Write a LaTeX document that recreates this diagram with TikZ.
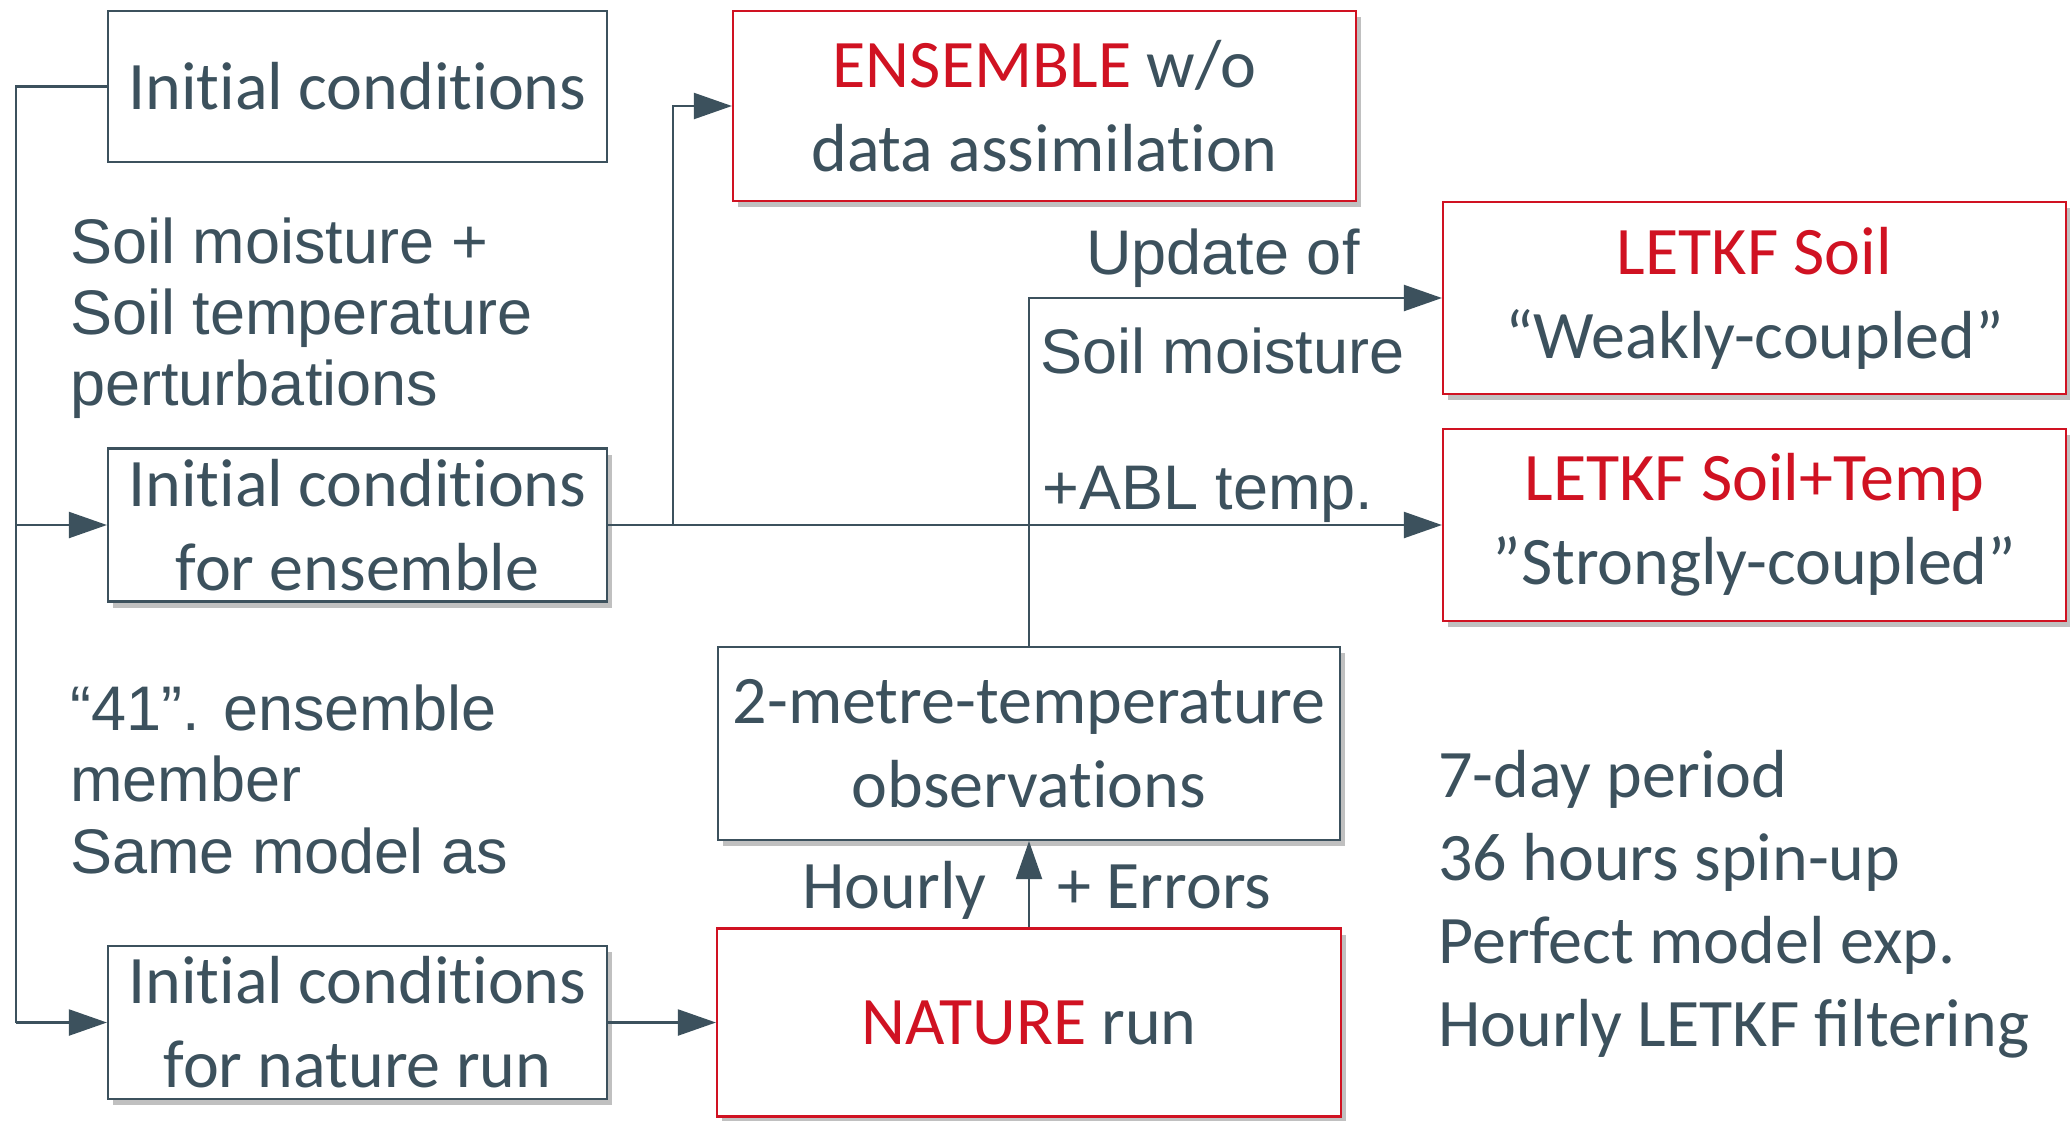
\documentclass[tikz,border=0pt]{standalone}
\usepackage{fontspec}
\setmainfont{Carlito}[Ligatures=NoCommon]
\newfontfamily\lblfont{Liberation Sans}
\usetikzlibrary{arrows.meta,shadows}
\definecolor{ink}{RGB}{60,81,93}
\definecolor{hired}{RGB}{208,18,34}
\definecolor{shade}{RGB}{192,192,192}
\tikzset{
  box/.style={draw=ink, line width=1.1pt, fill=white, inner sep=0pt, align=center,
    text=ink, font=\fontsize{34}{42}\selectfont},
  redbox/.style={box, draw=hired},
  shad/.style={drop shadow={shadow xshift=2.5pt, shadow yshift=-3pt, fill=shade, opacity=1}},
  conn/.style={draw=ink, line width=1.1pt},
  arr/.style={conn, -{Triangle[length=19pt,width=13pt]}},
  lbl/.style={text=ink, font=\lblfont\fontsize{31.5}{36}\selectfont, inner sep=0pt, anchor=base west},
  note/.style={text=ink, font=\fontsize{34}{41}\selectfont, inner sep=0pt, anchor=base west},
}
\begin{document}
\begin{tikzpicture}[x=0.5pt,y=-0.5pt]
\useasboundingbox (0,0) rectangle (2070,1120);
\fill[white] (0,0) rectangle (2070,1120);

% boxes
\node[box, minimum width=249.5pt, minimum height=75.5pt] (A) at (357.5,86.5) {Initial conditions};
\node[box, shad, minimum width=249.5pt, minimum height=76.5pt] (B) at (357.5,525) {Initial conditions\\for ensemble};
\node[box, shad, minimum width=249.5pt, minimum height=76.5pt] (C) at (357.5,1022.5) {Initial conditions\\for nature run};
\node[redbox, shad, minimum width=311.5pt, minimum height=95pt] (D) at (1044.5,106) {\textcolor{hired}{ENSEMBLE} w/o\\data assimilation};
\node[redbox, shad, minimum width=311.5pt, minimum height=96pt] (E) at (1754.5,298) {\textcolor{hired}{LETKF Soil}\\“Weakly-coupled”};
\node[redbox, shad, minimum width=311.5pt, minimum height=96pt] (F) at (1754.5,525) {\textcolor{hired}{LETKF Soil+Temp}\\”Strongly-coupled”};
\node[box, shad, minimum width=311pt, minimum height=96.5pt] (G) at (1029,743.5) {2-metre-temperature\\observations};
\node[redbox, shad, minimum width=312pt, minimum height=94pt] (H) at (1029,1022.5) {\textcolor{hired}{NATURE} run};

% connectors
\coordinate (L) at (16,0);
\coordinate (J) at (673,0);
\draw[conn] (A.west) -- (A.west -| L) -- (C.west -| L);
\draw[arr] (C.west -| L) -- (C.west);
\draw[arr] (B.west -| L) -- (B.west);
\draw[arr] (B.east) -- (B.east -| J) |- (D.west);
\draw[arr] (B.east) -- (F.west);
\draw[arr] (G.north) |- (E.west);
\draw[arr] (C.east) -- (H.west);
\draw[arr] (H.north) -- (G.south);

% free labels
\node[lbl] (s1) at (70,263) {Soil moisture +};
\node[lbl] (s2) at (70,334) {Soil temperature};
\node[lbl] (s3) at (70,405) {perturbations};
\node[lbl] (m1) at (70,730) {“41”. ensemble};
\node[lbl] (m2) at (70,801) {member};
\node[lbl] (m3) at (70,873) {Same model as};
\node[lbl] (u1) at (1086,274) {Update of};
\node[lbl] (u2) at (1040,373) {Soil moisture};
\node[lbl] (u3) at (1042,509) {+ABL temp.};
\node[note] (h1) at (802,908) {Hourly};
\node[note] (h2) at (1057,908) {+ Errors};
\node[note] (n1) at (1438,797) {7-day period};
\node[note] (n2) at (1438,880) {36 hours spin-up};
\node[note] (n3) at (1438,963) {Perfect model exp.};
\node[note] (n4) at (1438,1046) {Hourly LETKF ﬁltering};
\end{tikzpicture}
\end{document}
